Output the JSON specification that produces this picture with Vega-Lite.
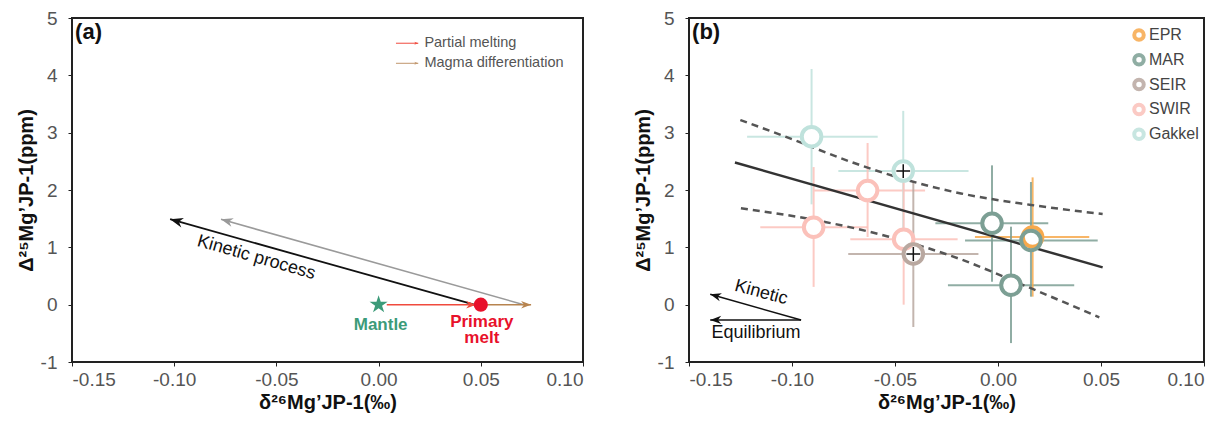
{
  "$schema": "https://vega.github.io/schema/vega-lite/v6.json",
  "background": "white",
  "padding": {"left": 15, "top": 8, "right": 0, "bottom": 0},
  "spacing": 106,
  "bounds": "flush",
  "resolve": {"scale": {"color": "independent"}, "legend": {"color": "independent"}},
  "config": {
    "view": {"stroke": "#222", "strokeWidth": 2},
    "axis": {"grid": false, "domain": false, "tickColor": "#222", "tickSize": 4, "labelFont": "Liberation Sans", "labelFontSize": 19, "labelColor": "#555", "titleFont": "Liberation Sans", "titleFontSize": 20, "titleFontWeight": "bold", "titleColor": "#111"},
    "text": {"font": "Liberation Sans"},
    "legend": {"labelFont": "Liberation Sans"}
  },
  "hconcat": [
    {
      "width": 511,
      "height": 344,
      "encoding": {
        "x": {"field": "x", "type": "quantitative", "scale": {"domain": [-0.15, 0.1], "nice": false, "zero": false},
              "axis": {"values": [-0.15, -0.1, -0.05, 0, 0.05, 0.1], "format": ".2f", "labelExpr": "replace(datum.label, '−', '-')", "title": "δ²⁶Mg’JP-1(‰)", "labelPadding": 4, "titlePadding": 3}},
        "y": {"field": "y", "type": "quantitative", "scale": {"domain": [-1, 5], "nice": false, "zero": false},
              "axis": {"values": [-1, 0, 1, 2, 3, 4, 5], "labelExpr": "replace(datum.label, '−', '-')", "title": "Δ²⁵Mg’JP-1(ppm)", "labelPadding": 11, "titlePadding": 4}}
      },
      "layer": [
        {"data": {"values": [{"x": 0.071, "y": 0, "x2": -0.0771, "y2": 1.49}]},
         "mark": {"type": "rule", "color": "#9a9a9a", "strokeWidth": 1.6},
         "encoding": {"x2": {"field": "x2"}, "y2": {"field": "y2"}}},
        {"data": {"values": [{"x": -0.0771, "y": 1.49}]},
         "mark": {"type": "point", "shape": "M0,0L-2,-0.75L-1.4,0L-2,0.75Z", "filled": true, "color": "#9a9a9a", "size": 144, "angle": 195.8, "strokeWidth": 0, "opacity": 1}},
        {"data": {"values": [{"x": 0.0468, "y": 0, "x2": -0.102, "y2": 1.49}]},
         "mark": {"type": "rule", "color": "#111", "strokeWidth": 1.8},
         "encoding": {"x2": {"field": "x2"}, "y2": {"field": "y2"}}},
        {"data": {"values": [{"x": -0.102, "y": 1.49}]},
         "mark": {"type": "point", "shape": "M0,0L-2,-0.75L-1.4,0L-2,0.75Z", "filled": true, "color": "#111", "size": 169, "angle": 195.7, "strokeWidth": 0, "opacity": 1}},
        {"data": {"values": [{"x": 0.004, "y": 0, "x2": 0.0477, "y2": 0}]},
         "mark": {"type": "rule", "color": "#f04a3d", "strokeWidth": 1.5},
         "encoding": {"x2": {"field": "x2"}, "y2": {"field": "y2"}}},
        {"data": {"values": [{"x": 0.0477, "y": 0}]},
         "mark": {"type": "point", "shape": "M0,0L-2,-0.75L-1.4,0L-2,0.75Z", "filled": true, "color": "#f04a3d", "size": 100, "angle": 0, "strokeWidth": 0, "opacity": 1}},
        {"data": {"values": [{"x": 0.05, "y": 0, "x2": 0.0746, "y2": 0}]},
         "mark": {"type": "rule", "color": "#b7844f", "strokeWidth": 1.5},
         "encoding": {"x2": {"field": "x2"}, "y2": {"field": "y2"}}},
        {"data": {"values": [{"x": 0.0746, "y": 0}]},
         "mark": {"type": "point", "shape": "M0,0L-2,-0.75L-1.4,0L-2,0.75Z", "filled": true, "color": "#b7844f", "size": 100, "angle": 0, "strokeWidth": 0, "opacity": 1}},
        {"data": {"values": [{"x": 0, "y": 0}]},
         "mark": {"type": "point", "shape": "M0,-1L0.2245,-0.309L0.951,-0.309L0.3633,0.118L0.588,0.809L0,0.382L-0.588,0.809L-0.3633,0.118L-0.951,-0.309L-0.2245,-0.309Z", "filled": true, "color": "#3c9b79", "size": 360, "strokeWidth": 0, "opacity": 1}},
        {"data": {"values": [{"x": 0.05, "y": 0}]},
         "mark": {"type": "point", "shape": "circle", "filled": true, "color": "#e8112b", "size": 200, "strokeWidth": 0, "opacity": 1}},
        {"data": {"values": [{"x": 0.001, "y": -0.354, "label": "Mantle"}]},
         "mark": {"type": "text", "fontSize": 17, "fontWeight": "bold", "color": "#3c9b79", "align": "center", "baseline": "middle"},
         "encoding": {"text": {"field": "label"}}},
        {"data": {"values": [{"x": 0.0505, "y": -0.3, "label": "Primary"}, {"x": 0.0505, "y": -0.59, "label": "melt"}]},
         "mark": {"type": "text", "fontSize": 17, "fontWeight": "bold", "color": "#e8112b", "align": "center", "baseline": "middle"},
         "encoding": {"text": {"field": "label"}}},
        {"data": {"values": [{"x": -0.0598, "y": 0.82, "label": "Kinetic process"}]},
         "mark": {"type": "text", "fontSize": 18, "color": "#111", "align": "center", "baseline": "middle", "angle": 16},
         "encoding": {"text": {"field": "label"}}},
        {"data": {"values": [{"x": 0.0085, "y": 4.56, "x2": 0.0194, "y2": 4.56}]},
         "mark": {"type": "rule", "strokeWidth": 1, "color": "#f04a3d"},
         "encoding": {"x2": {"field": "x2"}, "y2": {"field": "y2"}}},
        {"data": {"values": [{"x": 0.0085, "y": 4.21, "x2": 0.0194, "y2": 4.21}]},
         "mark": {"type": "rule", "strokeWidth": 1, "color": "#c0966c"},
         "encoding": {"x2": {"field": "x2"}, "y2": {"field": "y2"}}},
        {"data": {"values": [{"x": 0.0194, "y": 4.56}]},
         "mark": {"type": "point", "shape": "M0,0L-2,-0.75L-1.4,0L-2,0.75Z", "filled": true, "color": "#f04a3d", "size": 16, "strokeWidth": 0, "opacity": 1}},
        {"data": {"values": [{"x": 0.0194, "y": 4.21}]},
         "mark": {"type": "point", "shape": "M0,0L-2,-0.75L-1.4,0L-2,0.75Z", "filled": true, "color": "#c0966c", "size": 16, "strokeWidth": 0, "opacity": 1}},
        {"data": {"values": [{"x": 0.0224, "y": 4.56, "label": "Partial melting"}, {"x": 0.0224, "y": 4.21, "label": "Magma differentiation"}]},
         "mark": {"type": "text", "fontSize": 14.5, "color": "#555", "align": "left", "baseline": "middle"},
         "encoding": {"text": {"field": "label"}}},
        {"data": {"values": [{"x": -0.1485, "y": 4.76, "label": "(a)"}]},
         "mark": {"type": "text", "fontSize": 22, "fontWeight": "bold", "color": "#111", "align": "left", "baseline": "middle"},
         "encoding": {"text": {"field": "label"}}}
      ]
    },
    {
      "width": 515,
      "height": 344,
      "encoding": {
        "x": {"field": "x", "type": "quantitative", "scale": {"domain": [-0.15, 0.1], "nice": false, "zero": false},
              "axis": {"values": [-0.15, -0.1, -0.05, 0, 0.05, 0.1], "format": ".2f", "labelExpr": "replace(datum.label, '−', '-')", "title": "δ²⁶Mg’JP-1(‰)", "labelPadding": 4, "titlePadding": 3}},
        "y": {"field": "y", "type": "quantitative", "scale": {"domain": [-1, 5], "nice": false, "zero": false},
              "axis": {"values": [-1, 0, 1, 2, 3, 4, 5], "labelExpr": "replace(datum.label, '−', '-')", "title": "Δ²⁵Mg’JP-1(ppm)", "labelPadding": 11, "titlePadding": 4}}
      },
      "layer": [
        {"data": {"name": "pts", "values": [
          {"ridge": "Gakkel", "x": -0.0905, "y": 2.93, "xlo": -0.1218, "xhi": -0.0584, "ylo": 1.75, "yhi": 4.11},
          {"ridge": "Gakkel", "x": -0.046, "y": 2.33, "xlo": -0.0775, "xhi": -0.0143, "ylo": 1.28, "yhi": 3.38},
          {"ridge": "SWIR", "x": -0.0633, "y": 1.99, "xlo": -0.0892, "xhi": -0.0354, "ylo": 1.18, "yhi": 2.82},
          {"ridge": "SWIR", "x": -0.0895, "y": 1.35, "xlo": -0.1154, "xhi": -0.0633, "ylo": 0.31, "yhi": 2.4},
          {"ridge": "SWIR", "x": -0.0458, "y": 1.14, "xlo": -0.0717, "xhi": -0.0196, "ylo": 0.0, "yhi": 2.28},
          {"ridge": "SEIR", "x": -0.0411, "y": 0.884, "xlo": -0.0727, "xhi": -0.0095, "ylo": -0.39, "yhi": 2.15},
          {"ridge": "MAR", "x": -0.0029, "y": 1.42, "xlo": -0.0304, "xhi": 0.0244, "ylo": 0.4, "yhi": 2.43},
          {"ridge": "EPR", "x": 0.0168, "y": 1.18, "xlo": -0.0112, "xhi": 0.0443, "ylo": 0.14, "yhi": 2.22},
          {"ridge": "MAR", "x": 0.016, "y": 1.12, "xlo": -0.016, "xhi": 0.0484, "ylo": 0.14, "yhi": 2.14},
          {"ridge": "MAR", "x": 0.0063, "y": 0.34, "xlo": -0.0243, "xhi": 0.037, "ylo": -0.67, "yhi": 1.36}
        ]},
         "mark": {"type": "rule", "strokeWidth": 2, "opacity": 0.85},
         "encoding": {"x": {"field": "xlo"}, "x2": {"field": "xhi"},
                      "color": {"field": "ridge", "type": "nominal", "scale": {"domain": ["EPR", "MAR", "SEIR", "SWIR", "Gakkel"], "range": ["#f7a94c", "#7c9f94", "#b9a8a0", "#fbc1ba", "#bfe2dc"]}}}},
        {"data": {"name": "pts"},
         "mark": {"type": "rule", "strokeWidth": 2, "opacity": 0.85},
         "encoding": {"y": {"field": "ylo"}, "y2": {"field": "yhi"},
                      "color": {"field": "ridge", "type": "nominal"}}},
        {"data": {"values": [{"x": -0.1277, "y": 2.48}, {"x": 0.0508, "y": 0.65}]},
         "mark": {"type": "line", "color": "#333", "strokeWidth": 2.5},
         "encoding": {}},
        {"data": {"values": [
          {"band": "upper", "x": -0.1251, "y": 3.22}, {"band": "upper", "x": -0.1053, "y": 2.96}, {"band": "upper", "x": -0.0698, "y": 2.47},
          {"band": "upper", "x": -0.0438, "y": 2.17}, {"band": "upper", "x": -0.018, "y": 1.94}, {"band": "upper", "x": 0.016, "y": 1.74}, {"band": "upper", "x": 0.0508, "y": 1.58},
          {"band": "lower", "x": -0.1248, "y": 1.68}, {"band": "lower", "x": -0.094, "y": 1.51}, {"band": "lower", "x": -0.0535, "y": 1.19},
          {"band": "lower", "x": -0.018, "y": 0.79}, {"band": "lower", "x": 0.0144, "y": 0.31}, {"band": "lower", "x": 0.0492, "y": -0.22}
        ]},
         "mark": {"type": "line", "color": "#555", "strokeWidth": 2.5, "strokeDash": [7, 5], "interpolate": "monotone"},
         "encoding": {"detail": {"field": "band"}}},
        {"data": {"name": "pts"},
         "mark": {"type": "point", "shape": "circle", "filled": true, "color": "white", "size": 380, "strokeWidth": 0, "opacity": 1}},
        {"data": {"name": "pts"},
         "mark": {"type": "point", "shape": "circle", "filled": false, "size": 380, "strokeWidth": 4, "opacity": 1},
         "encoding": {"color": {"field": "ridge", "type": "nominal",
                                "legend": {"title": null, "orient": "none", "legendX": 442, "legendY": 9, "padding": 0, "symbolType": "circle", "symbolSize": 90, "symbolStrokeWidth": 4, "symbolFillColor": "white", "labelFontSize": 16, "labelColor": "#444", "labelOffset": 2, "rowPadding": -1.2}}}},
        {"data": {"values": [{"x": -0.046, "y": 2.33}, {"x": -0.0411, "y": 0.884}]},
         "mark": {"type": "point", "shape": "M-1,0H1M0,-1V1", "filled": false, "color": "#111", "size": 190, "strokeWidth": 1.5, "opacity": 1}},
        {"data": {"values": [{"x": -0.0956, "y": -0.267, "x2": -0.1397, "y2": 0.18}, {"x": -0.0956, "y": -0.267, "x2": -0.1397, "y2": -0.267}]},
         "mark": {"type": "rule", "color": "#111", "strokeWidth": 1.5},
         "encoding": {"x2": {"field": "x2"}, "y2": {"field": "y2"}}},
        {"data": {"values": [{"x": -0.1397, "y": 0.18}]},
         "mark": {"type": "point", "shape": "M0,0L-2,-0.75L-1.4,0L-2,0.75Z", "filled": true, "color": "#111", "size": 121, "angle": 195.7, "strokeWidth": 0, "opacity": 1}},
        {"data": {"values": [{"x": -0.1397, "y": -0.267}]},
         "mark": {"type": "point", "shape": "M0,0L-2,-0.75L-1.4,0L-2,0.75Z", "filled": true, "color": "#111", "size": 121, "angle": 180, "strokeWidth": 0, "opacity": 1}},
        {"data": {"values": [{"x": -0.115, "y": 0.21, "label": "Kinetic"}]},
         "mark": {"type": "text", "fontSize": 18, "color": "#111", "align": "center", "baseline": "middle", "angle": 15},
         "encoding": {"text": {"field": "label"}}},
        {"data": {"values": [{"x": -0.1175, "y": -0.5, "label": "Equilibrium"}]},
         "mark": {"type": "text", "fontSize": 18, "color": "#111", "align": "center", "baseline": "middle"},
         "encoding": {"text": {"field": "label"}}},
        {"data": {"values": [{"x": -0.1485, "y": 4.76, "label": "(b)"}]},
         "mark": {"type": "text", "fontSize": 22, "fontWeight": "bold", "color": "#111", "align": "left", "baseline": "middle"},
         "encoding": {"text": {"field": "label"}}}
      ]
    }
  ]
}
